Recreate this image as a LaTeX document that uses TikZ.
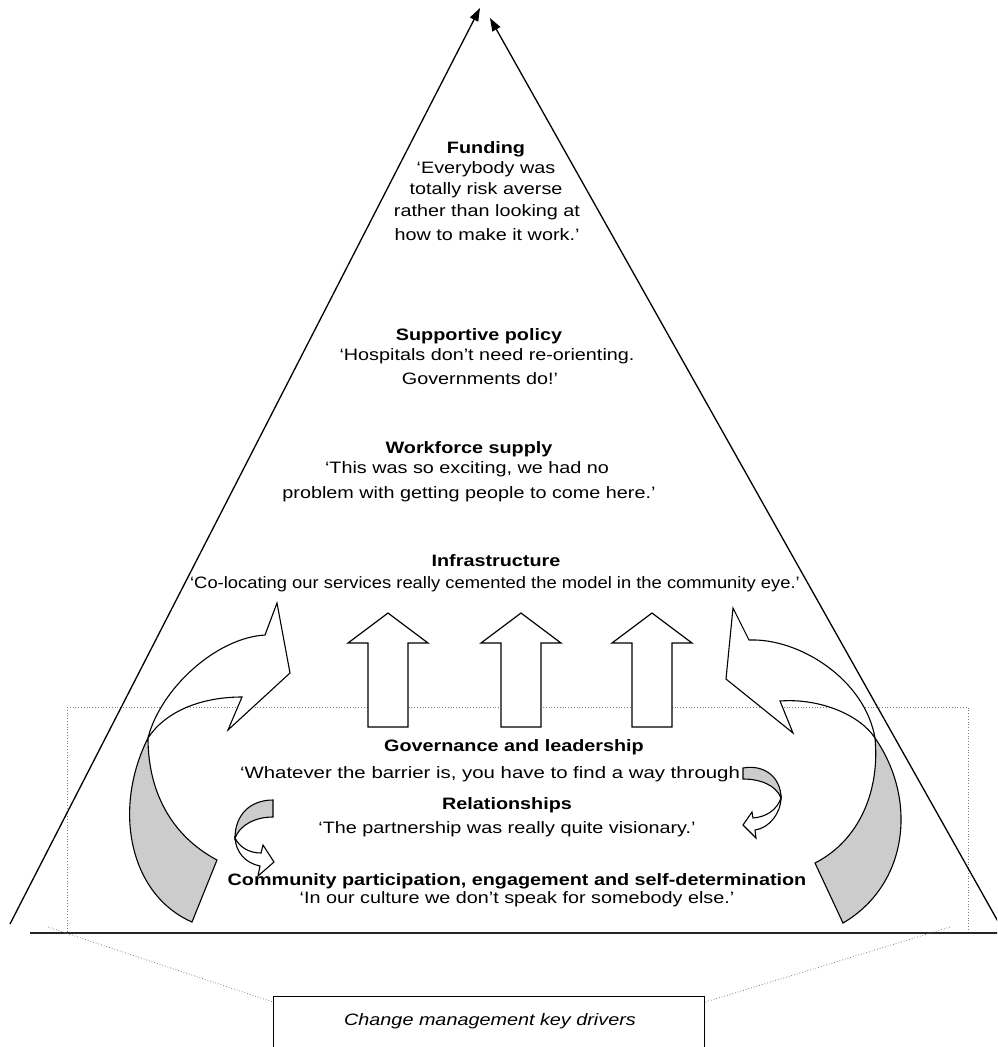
\documentclass[tikz,border=0pt]{standalone}
\usepackage{fontspec}
\setmainfont{Liberation Sans}[FakeStretch=1.2]
\usetikzlibrary{arrows.meta,calc}
\definecolor{shade}{HTML}{CCCCCC}
\newcommand{\txtsize}{\fontsize{16.5}{20}\selectfont}
\tikzset{
  pyr/.style={line width=1.3pt,-{Triangle[length=13pt,width=9pt]}},
  groundline/.style={line width=2.2pt,draw=black!85},
  dots/.style={draw=gray,dotted,line width=0.8pt},
  ribbon/.style={draw=black,line width=1.1pt,line join=miter},
  back/.style={ribbon,fill=shade},
  front/.style={ribbon,fill=white},
  blockarrow/.style={draw=black,line width=1.2pt,fill=white},
  hd/.style={font=\txtsize\bfseries,inner sep=0pt,anchor=base},
  qt/.style={font=\txtsize,inner sep=0pt,anchor=base},
  keybox/.style={draw=black,line width=1.4pt,minimum width=431pt,minimum height=80pt,inner sep=0pt,anchor=north west}
}
\begin{document}
\begin{tikzpicture}[x=1pt,y=-1pt]
\useasboundingbox (0,0) rectangle (997,1047);
\clip (0,0) rectangle (997,1047);

% dotted frame and ground line
\draw[dots] (67,707) rectangle (968,932);
\draw[groundline] (30,933) -- (1000,933);

% pyramid sides
\coordinate (footL) at (10,924);
\coordinate (apexL) at (480,8);
\coordinate (footR) at (1000,925);
\coordinate (apexR) at (490,18);
\draw[pyr] (footL) -- (apexL);
\draw[pyr] (footR) -- (apexR);

% straight block arrows
\foreach \cx in {388,521,652}{
  \draw[blockarrow] (\cx,613) -- (\cx+40,643) -- (\cx+20,643) -- (\cx+20,727)
    -- (\cx-20,727) -- (\cx-20,643) -- (\cx-40,643) -- cycle;
}

% texts
\node[hd] (fund) at (486,153) {Funding};
\node[qt] (fq1) at (486,173) {`Everybody was};
\node[qt] (fq2) at (486,194) {totally risk averse};
\node[qt] (fq3) at (487,216) {rather than looking at};
\node[qt] (fq4) at (487,240) {how to make it work.'};

\node[hd] (pol) at (479,340) {Supportive policy};
\node[qt] (pq1) at (487,360) {`Hospitals don't need re-orienting.};
\node[qt] (pq2) at (480,384) {Governments do!'};

\node[hd] (work) at (469,453) {Workforce supply};
\node[qt] (wq1) at (467,473) {`This was so exciting, we had no};
\node[qt] (wq2) at (469,498) {problem with getting people to come here.'};

\node[hd] (infra) at (496,566) {Infrastructure};
\node[qt] (iq1) at (495,588) {\scalebox{0.928}[1]{`Co-locating our services really cemented the model in the community eye.'}};

\node[hd] (gov) at (514,751) {Governance and leadership};
\node[qt] (gq1) at (490,778) {\scalebox{1.03}[1]{`Whatever the barrier is, you have to find a way through}};

\node[hd] (rel) at (507,809) {Relationships};
\node[qt] (rq1) at (507,833) {`The partnership was really quite visionary.'};

\node[hd] (comm) at (517,885) {Community participation, engagement and self-determination};
\node[qt] (cq1) at (517,903) {`In our culture we don't speak for somebody else.'};

% left big curved arrow
\draw[front] (148,738) .. controls (160,690) and (215,638) .. (265,635) -- (277,603) -- (290,673)
  -- (228,730) -- (242,697) .. controls (200,697) and (165,712) .. (148,738) -- cycle;
\draw[back] (148,738) .. controls (112,810) and (130,895) .. (192,922) -- (217,860)
  .. controls (170,835) and (148,790) .. (148,738) -- cycle;

% right big curved arrow
\draw[front] (875,738) .. controls (865,680) and (800,638) .. (749,640) -- (733,608) -- (726,679)
  -- (793,733) -- (780,701) .. controls (820,698) and (860,715) .. (875,738) -- cycle;
\draw[back] (875,738) .. controls (918,800) and (908,885) .. (843,923) -- (815,863)
  .. controls (860,840) and (880,790) .. (875,738) -- cycle;

% left small curved arrow
\draw[back] (273,800) .. controls (250,800) and (235,815) .. (235,838)
  .. controls (240,825) and (255,817) .. (273,817) -- cycle;
\draw[front] (235,838) .. controls (240,848) and (250,853) .. (261,853) -- (263,845) -- (274,862)
  -- (258,876) -- (260,866) .. controls (245,863) and (236,852) .. (235,838) -- cycle;

% right small curved arrow
\draw[back] (743,768) .. controls (765,764) and (781,778) .. (781,798)
  .. controls (776,785) and (760,779) .. (743,779) -- cycle;
\draw[front] (781,798) .. controls (781,812) and (770,828) .. (755,830) -- (756,838) -- (743,825)
  -- (752,812) -- (753,818) .. controls (766,817) and (777,810) .. (781,798) -- cycle;

% key drivers box
\node[keybox] (box) at (273,996) {};
\node[qt,font=\txtsize\itshape] (boxtext) at (490,1025) {Change management key drivers};
\draw[dots] (48,927) -- ($(box.north west)+(0,6)$);
\draw[dots] (950,927) -- ($(box.north east)+(0,6)$);
\end{tikzpicture}
\end{document}
